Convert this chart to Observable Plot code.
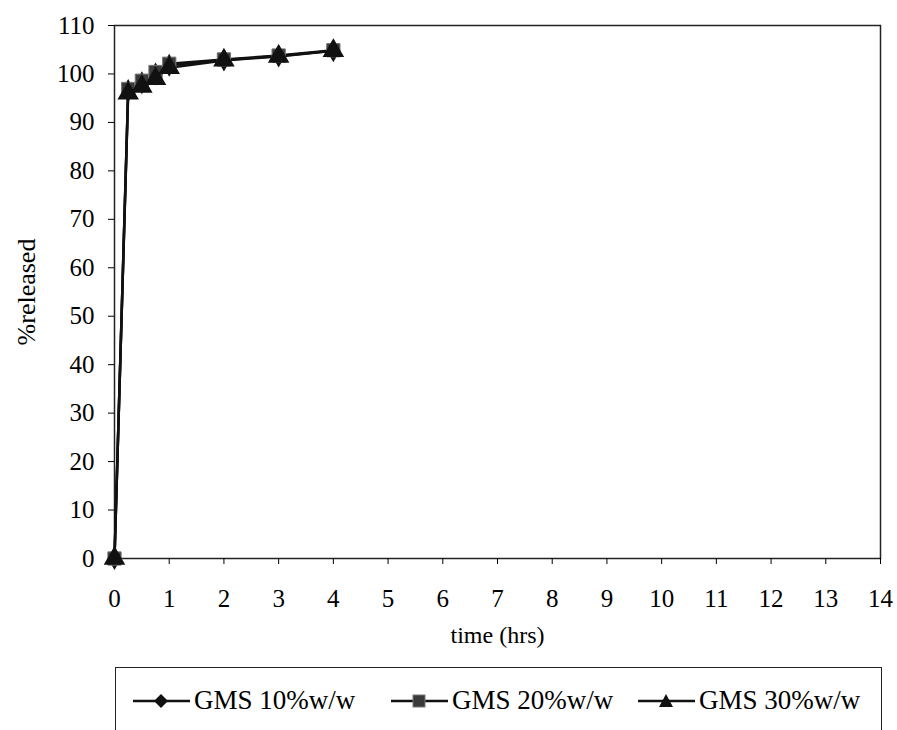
<!DOCTYPE html>
<html>
<head>
<meta charset="utf-8">
<script src="https://cdn.jsdelivr.net/npm/d3@7"></script>
<script src="https://cdn.jsdelivr.net/npm/@observablehq/plot@0.6"></script>
<style>
  body { margin: 0; background: #fff; font-family: "Liberation Serif", serif; }
  #wrap { position: relative; width: 897px; height: 730px; overflow: hidden; }
  #legend { position: absolute; left: 115px; top: 667px; width: 767px; height: 100px;
            border: 1.5px solid #222; box-sizing: border-box; }
  .entry { position: absolute; top: 17px; display: flex; align-items: center;
           font-size: 27px; color: #000; white-space: nowrap; }
  .entry svg { margin-right: 4px; }
</style>
</head>
<body>
<div id="wrap">
  <div id="chart"></div>
  <div id="legend"></div>
</div>
<script>
const time = [0, 0.25, 0.5, 0.75, 1, 2, 3, 4];
const gms10 = [0, 96.6, 98.2, 100.0, 101.8, 102.9, 103.7, 104.8];
const gms20 = [0, 96.9, 98.6, 100.4, 102.1, 103.0, 103.8, 104.9];
const gms30 = [0, 96.0, 97.4, 99.0, 101.3, 102.8, 103.6, 104.8];
const seriesNames = ["GMS 10%w/w", "GMS 20%w/w", "GMS 30%w/w"];
const xTicks = d3.range(0, 15, 1);
const yTicks = d3.range(0, 111, 10);
const xLabel = "time (hrs)";
const yLabel = "%released";

const rows = (vals, s) => time.map((t, i) => ({time: t, value: vals[i], series: s}));
const d10 = rows(gms10, seriesNames[0]);
const d20 = rows(gms20, seriesNames[1]);
const d30 = rows(gms30, seriesNames[2]);

const plot = Plot.plot({
  width: 897,
  height: 650,
  marginLeft: 114,
  marginRight: 17,
  marginTop: 25,
  marginBottom: 92,
  style: {fontFamily: "Liberation Serif, serif", fontSize: "24px", color: "#000", background: "transparent"},
  x: {domain: [0, 14]},
  y: {domain: [0, 110]},
  marks: [
    Plot.frame({stroke: "#222", strokeWidth: 1.5}),
    Plot.axisX({ticks: xTicks, tickSize: 6, tickPadding: 25, tickFormat: d => d, label: null, fontSize: 25}),
    Plot.axisY({ticks: yTicks, tickSize: 6, tickPadding: 14, tickFormat: d => d, label: null, fontSize: 25}),
    Plot.text([xLabel], {frameAnchor: "bottom", dy: 84, text: d => d, fontSize: 24, fill: "#000"}),
    Plot.text([yLabel], {frameAnchor: "left", dx: -88, rotate: -90, textAnchor: "middle", text: d => d, fontSize: 26, fill: "#000"}),
    Plot.line(d10, {x: "time", y: "value", stroke: "#111", strokeWidth: 2.5}),
    Plot.line(d20, {x: "time", y: "value", stroke: "#111", strokeWidth: 2.5}),
    Plot.line(d30, {x: "time", y: "value", stroke: "#111", strokeWidth: 2.5}),
    Plot.dot(d10, {x: "time", y: "value", symbol: "diamond", r: 7, fill: "#111", stroke: "none"}),
    Plot.dot(d20, {x: "time", y: "value", symbol: "square", r: 7.5, fill: "#3a3a3a", stroke: "#777", strokeWidth: 1}),
    Plot.dot(d30, {x: "time", y: "value", symbol: "triangle", r: 8, fill: "#111", stroke: "none"})
  ]
});
document.getElementById("chart").appendChild(plot);

// legend
const legend = document.getElementById("legend");
const entryLeft = [17, 275, 522];
const swatch = [
  '<polygon points="28,1 35,8 28,15 21,8" fill="#111"/>',
  '<rect x="22" y="2" width="12" height="12" fill="#3a3a3a" stroke="#777" stroke-width="1"/>',
  '<polygon points="28,1 35,14 21,14" fill="#111"/>'
];
seriesNames.forEach((name, i) => {
  const e = document.createElement("div");
  e.className = "entry";
  e.style.left = entryLeft[i] + "px";
  e.innerHTML = '<svg width="57" height="16"><line x1="0" y1="8" x2="57" y2="8" stroke="#111" stroke-width="2.5"/>' + swatch[i] + '</svg><span>' + name + '</span>';
  legend.appendChild(e);
});
</script>
</body>
</html>
